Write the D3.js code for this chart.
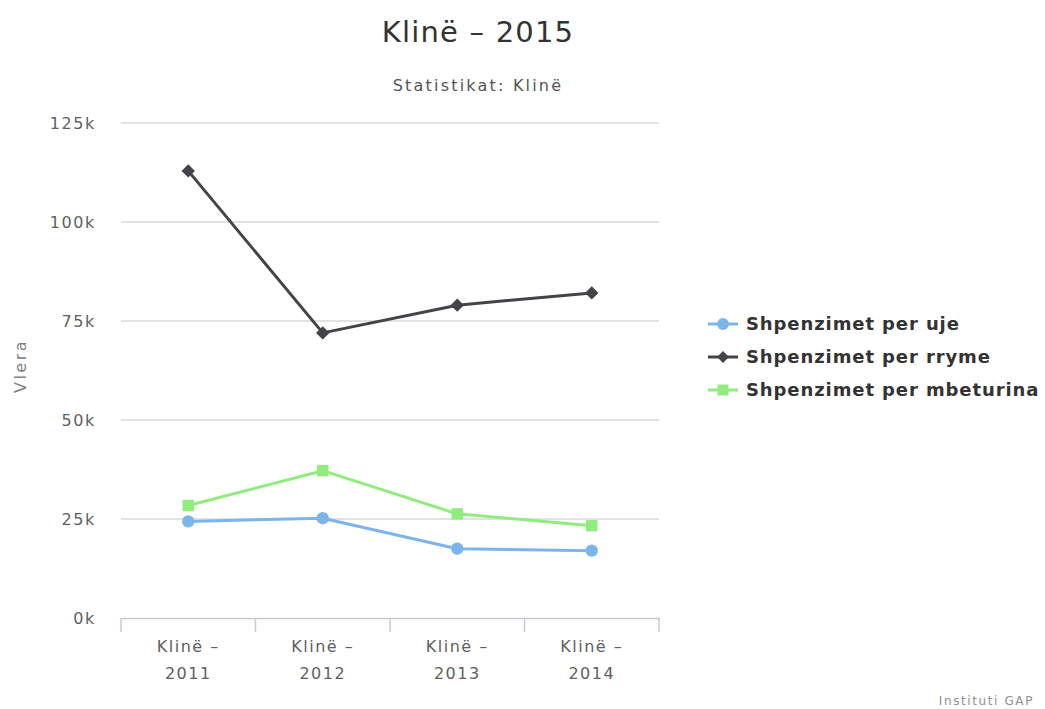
<!DOCTYPE html>
<html><head><meta charset="utf-8">
<script src="https://cdn.jsdelivr.net/npm/d3@7"></script>
<style>body{margin:0;background:#fff;}svg{display:block;}</style>
</head><body>
<svg id="c" width="1045" height="709"></svg>
<script>
const categories = ["Klinë – 2011","Klinë – 2012","Klinë – 2013","Klinë – 2014"];
const seriesNames = ["Shpenzimet per uje","Shpenzimet per rryme","Shpenzimet per mbeturina"];
const uje = [24400, 25200, 17500, 17000];
const rryme = [112900, 72000, 79000, 82100];
const mbeturina = [28400, 37200, 26300, 23300];
const yTicks = [0, 25000, 50000, 75000, 100000, 125000];
const colors = ["#7cb5ec","#434348","#90ed7d"];

const squareDiamond = { draw(ctx, size){ const r = Math.sqrt(size/2); ctx.moveTo(0,-r); ctx.lineTo(r,0); ctx.lineTo(0,r); ctx.lineTo(-r,0); ctx.closePath(); } };
const symbols = [d3.symbolCircle, squareDiamond, d3.symbolSquare];

const series = [uje, rryme, mbeturina].map((v,i)=>({name:seriesNames[i], values:v, color:colors[i], symbol:symbols[i]}));

const svg = d3.select("#c");
const font = "'DejaVu Sans', sans-serif";
const L = 121, R = 659, T = 123, B = 618;

const x = d3.scaleBand().domain(categories).range([L, R]);
const y = d3.scaleLinear().domain([0,125000]).range([B, T]);

// title
svg.append("text").attr("x", 478).attr("y", 42).attr("text-anchor","middle")
  .attr("font-family", font).attr("font-size", 29).attr("letter-spacing", 1.2).attr("fill","#333").text("Klinë – 2015");
svg.append("text").attr("x", 478).attr("y", 91).attr("text-anchor","middle")
  .attr("font-family", font).attr("font-size", 16).attr("letter-spacing", 2.2).attr("fill","#555").text("Statistikat: Klinë");

// grid
svg.append("g").selectAll("line").data(yTicks.filter(d=>d>0)).join("line")
  .attr("x1", L).attr("x2", R).attr("y1", d=>y(d)).attr("y2", d=>y(d))
  .attr("stroke","#d8d8d8").attr("stroke-width",1.5);

// y axis labels
const yAxis = d3.axisLeft(y).tickValues(yTicks).tickSize(0).tickPadding(0)
  .tickFormat(d => (d/1000) + "k");
const gy = svg.append("g").attr("transform", `translate(96,0)`).call(yAxis);
gy.select(".domain").remove();
gy.selectAll("text").attr("font-family", font).attr("font-size", 16).attr("letter-spacing", 1.6).attr("fill","#606060").attr("dy","0.35em");

svg.append("text").attr("transform","translate(26,366) rotate(-90)").attr("text-anchor","middle")
  .attr("font-family", font).attr("font-size", 16).attr("letter-spacing", 2.5).attr("fill","#808080").text("Vlera");

// x axis
const xAxis = d3.axisBottom(x).tickSize(0).tickFormat("");
const gx = svg.append("g").attr("transform", `translate(0,${B})`).call(xAxis);
gx.select(".domain").attr("stroke","#c8c8d8").attr("stroke-width",1.5);
const bounds = categories.map(c=>x(c)).concat([x(categories[categories.length-1]) + x.bandwidth()]);
svg.append("g").selectAll("line").data(bounds).join("line")
  .attr("x1", d=>d).attr("x2", d=>d).attr("y1", B).attr("y2", B+14)
  .attr("stroke","#c8c8d8").attr("stroke-width",1.5);
const xl = svg.append("g").selectAll("text").data(categories).join("text")
  .attr("x", d=>x(d)+x.bandwidth()/2).attr("y", 652).attr("text-anchor","middle")
  .attr("font-family", font).attr("font-size", 16).attr("letter-spacing", 1.5).attr("fill","#606060");
xl.each(function(d){
  const parts = d.split(" – ");
  const t = d3.select(this);
  t.append("tspan").attr("x", x(d)+x.bandwidth()/2).attr("dy",0).text(parts[0] + " –");
  t.append("tspan").attr("x", x(d)+x.bandwidth()/2).attr("dy",27).text(parts[1]);
});

// lines
const line = d3.line().x((d,i)=>x(categories[i])+x.bandwidth()/2).y(d=>y(d));
series.forEach(s=>{
  svg.append("path").attr("d", line(s.values)).attr("fill","none")
    .attr("stroke", s.color).attr("stroke-width",3).attr("stroke-linejoin","round");
});
series.forEach(s=>{
  const size = s.symbol===d3.symbolCircle ? 120 : (s.symbol===d3.symbolSquare ? 130 : 90);
  svg.append("g").selectAll("path").data(s.values).join("path")
    .attr("transform",(d,i)=>`translate(${x(categories[i])+x.bandwidth()/2},${y(d)})`)
    .attr("d", d3.symbol().type(s.symbol).size(size)).attr("fill", s.color);
});

// legend
const lg = svg.append("g");
series.forEach((s,i)=>{
  const yy = 324 + i*33;
  lg.append("line").attr("x1",708).attr("x2",738).attr("y1",yy).attr("y2",yy).attr("stroke",s.color).attr("stroke-width",3);
  const size = s.symbol===d3.symbolCircle ? 110 : (s.symbol===d3.symbolSquare ? 120 : 70);
  lg.append("path").attr("transform",`translate(723,${yy})`).attr("d", d3.symbol().type(s.symbol).size(size)).attr("fill",s.color);
  lg.append("text").attr("x",746).attr("y",yy).attr("dy","0.36em")
    .attr("font-family", font).attr("font-size",18).attr("letter-spacing",0.9).attr("font-weight","bold").attr("fill","#333").text(s.name);
});

svg.append("text").attr("x",1034).attr("y",705).attr("text-anchor","end")
  .attr("font-family", font).attr("font-size",12).attr("letter-spacing",1.6).attr("fill","#909090").text("Instituti GAP");
</script>
</body></html>
